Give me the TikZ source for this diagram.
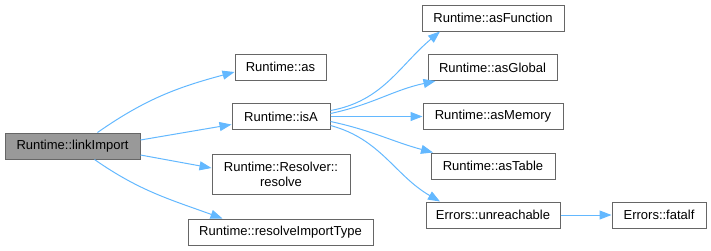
\documentclass[tikz,border=0pt]{standalone}
\usepackage{fontspec}
\setmainfont{Liberation Sans}
\usetikzlibrary{arrows.meta}

\begin{document}
\begin{tikzpicture}[x=1pt,y=-1pt,
    box/.style={draw=boxline,fill=white,line width=1pt,inner sep=0pt,
                minimum height=26pt,font=\fontsize{13}{15}\selectfont,align=center},
    mainbox/.style={box,fill=mainfill},
    edge/.style={draw=edgeblue,line width=1pt,
                 -{Triangle[length=12pt,width=9pt,fill=edgeblue]}}]
  % Define colors for the boxes and the call edges
  \definecolor{boxline}{RGB}{102,102,102}
  \definecolor{mainfill}{RGB}{153,153,153}
  \definecolor{edgeblue}{RGB}{99,184,255}

  \useasboundingbox (0,0) rectangle (711,250);

  % Caller on the left
  \node[mainbox,minimum width=135pt] (linkImport) at (72.5,146) {Runtime::linkImport};

  % Direct callees
  \node[box,minimum width=91pt]  (as)      at (280.5,67)  {Runtime::as};
  \node[box,minimum width=98pt]  (isA)     at (281,116.5) {Runtime::isA};
  \node[box,minimum width=138pt,minimum height=40pt] (resolve) at (281,174)
    {Runtime::Resolver::\\resolve};
  \node[box,minimum width=185pt] (resolveImportType) at (280.5,232) {Runtime::resolveImportType};

  % Callees of isA
  \node[box,minimum width=142pt] (asFunction)  at (493,18)    {Runtime::asFunction};
  \node[box,minimum width=129pt] (asGlobal)    at (492.5,67.5) {Runtime::asGlobal};
  \node[box,minimum width=140pt] (asMemory)    at (493,116.5) {Runtime::asMemory};
  \node[box,minimum width=124pt] (asTable)     at (493,166)   {Runtime::asTable};
  \node[box,minimum width=134pt] (unreachable) at (493,215)   {Errors::unreachable};
  \node[box,minimum width=94pt]  (fatalf)      at (659,215)   {Errors::fatalf};

  % Edges from linkImport
  \draw[edge] ([xshift=25pt]linkImport.north) to[out=35,in=195] ([yshift=-5pt]as.west);
  \draw[edge] ([yshift=6pt]linkImport.east) -- ([yshift=-8pt]isA.west);
  \draw[edge] ([yshift=-9pt]linkImport.east) -- ([yshift=6pt]resolve.west);
  \draw[edge] ([xshift=22pt]linkImport.south) to[out=-35,in=160] ([xshift=-58pt]resolveImportType.north);

  % Edges from isA
  \draw[edge] ([yshift=6pt]isA.east) to[out=10,in=220] ([xshift=-53pt]asFunction.south);
  \draw[edge] ([yshift=3pt]isA.east) to[out=12,in=192] ([xshift=-57pt]asGlobal.south);
  \draw[edge] (isA.east) -- (asMemory.west);
  \draw[edge] ([yshift=-5pt]isA.east) to[out=-12,in=165] ([xshift=-60pt]asTable.north);
  \draw[edge] ([yshift=-9pt]isA.east) to[out=-15,in=150] ([xshift=-53pt]unreachable.north);

  % Edge from unreachable
  \draw[edge] (unreachable) -- (fatalf);
\end{tikzpicture}
\end{document}
